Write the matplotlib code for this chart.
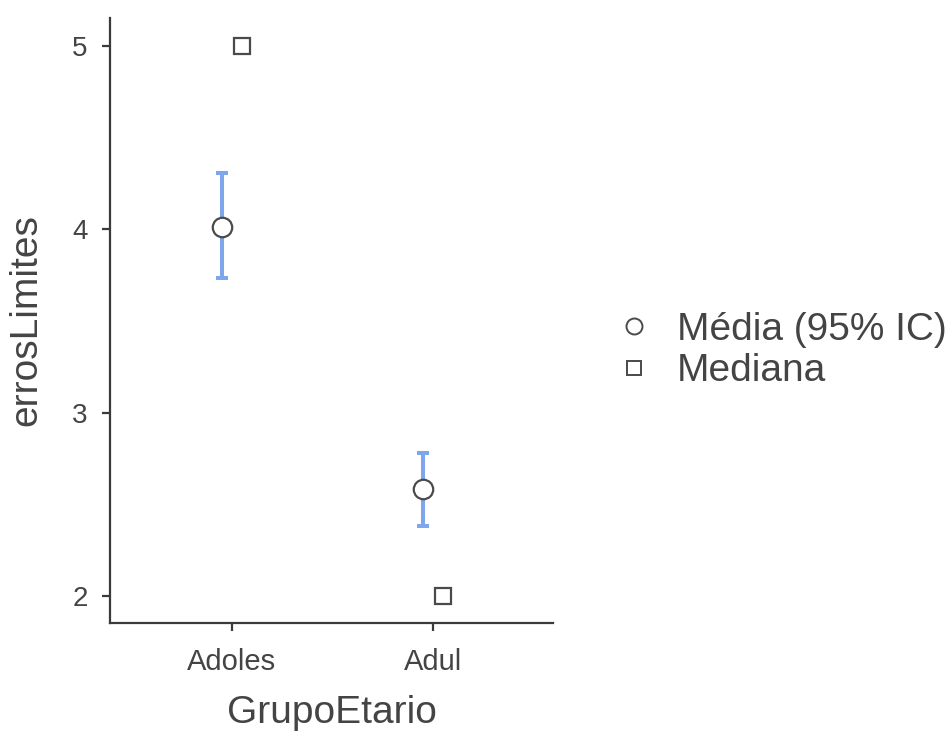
import matplotlib
matplotlib.use("Agg")
import matplotlib.pyplot as plt
import numpy as np
from matplotlib.lines import Line2D

plt.rcParams['font.family'] = ['Liberation Sans', 'DejaVu Sans']

groups = ["Adoles", "Adul"]
means = [4.012, 2.584]
ci_low = [3.735, 2.384]
ci_high = [4.306, 2.783]
medians = [5.0, 2.0]
y_ticks = [2, 3, 4, 5]

text_col = "#444444"
spine_col = "#3a3a3a"
err_col = "#7EA6EC"

fig = plt.figure(figsize=(9.52, 7.35), dpi=100)
ax = fig.add_axes([0.1155, 0.1525, 0.4655, 0.823])

x = np.arange(len(groups))
dodge = 0.05
means_a = np.array(means)
yerr = [means_a - np.array(ci_low), np.array(ci_high) - means_a]

ax.errorbar(x - dodge, means, yerr=yerr, fmt='none', ecolor=err_col,
            elinewidth=2.9, capsize=4.5, capthick=2.9, zorder=2)
ax.plot(x - dodge, means, linestyle='none', marker='o', markersize=14,
        markerfacecolor='white', markeredgecolor='#4a4a4a',
        markeredgewidth=1.6, zorder=3)
ax.plot(x + dodge, medians, linestyle='none', marker='s', markersize=11,
        markerfacecolor='white', markeredgecolor='#4a4a4a',
        markeredgewidth=1.6, zorder=3)

ax.set_xlim(-0.605, 1.597)
ax.set_ylim(1.855, 5.15)
ax.set_xticks(x)
ax.set_xticklabels(groups)
ax.set_yticks(y_ticks)
ax.set_yticklabels([str(v) for v in y_ticks])

for side in ('top', 'right'):
    ax.spines[side].set_visible(False)
for side in ('left', 'bottom'):
    ax.spines[side].set_color(spine_col)
    ax.spines[side].set_linewidth(1.6)

ax.tick_params(axis='both', colors=spine_col, width=1.6, length=6,
               labelcolor=text_col, pad=10)
ax.tick_params(axis='x', labelsize=21, pad=12)
ax.tick_params(axis='y', labelsize=20)

ax.set_xlabel("GrupoEtario", fontsize=28, color=text_col, labelpad=14)
ax.set_ylabel("errosLimites", fontsize=28, color=text_col, labelpad=20)

handles = [
    Line2D([], [], linestyle='none', marker='o', markersize=11.5,
           markerfacecolor='white', markeredgecolor='#4a4a4a', markeredgewidth=1.4),
    Line2D([], [], linestyle='none', marker='s', markersize=10,
           markerfacecolor='white', markeredgecolor='#4a4a4a', markeredgewidth=1.4),
]
leg = fig.legend(handles, ["Média (95% IC)", "Mediana"],
                 loc='center left', bbox_to_anchor=(0.629, 0.523),
                 frameon=False, fontsize=28, handlelength=1.0,
                 handletextpad=0.6, labelspacing=0.13, borderaxespad=0)
for t in leg.get_texts():
    t.set_color(text_col)

fig.savefig("out.png", dpi=100, facecolor='white')
